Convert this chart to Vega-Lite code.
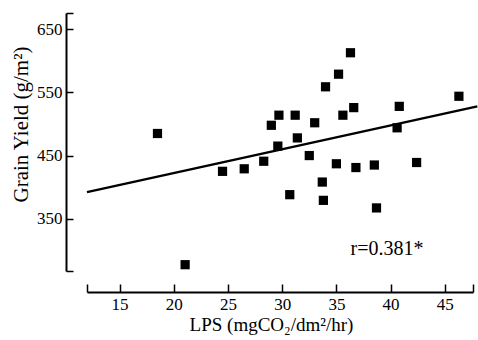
{
  "$schema": "https://vega.github.io/schema/vega-lite/v6.json",
  "width": 386,
  "height": 258,
  "autosize": "none",
  "padding": {"left": 87, "top": 13, "right": 5, "bottom": 69},
  "background": "white",
  "config": {
    "view": {"stroke": null},
    "font": "Liberation Serif",
    "axis": {
      "domainColor": "black",
      "domainWidth": 2,
      "tickColor": "black",
      "tickWidth": 1.5,
      "labelColor": "black",
      "titleColor": "black",
      "labelFont": "Liberation Serif",
      "titleFont": "Liberation Serif",
      "labelFontSize": 17,
      "titleFontWeight": "normal",
      "grid": false
    }
  },
  "datasets": {
    "points": [
      {"lps": 18.5, "yield": 485},
      {"lps": 29.7, "yield": 514},
      {"lps": 31.2, "yield": 514},
      {"lps": 29.0, "yield": 498},
      {"lps": 31.4, "yield": 478},
      {"lps": 33.0, "yield": 502},
      {"lps": 34.0, "yield": 559},
      {"lps": 35.2, "yield": 579},
      {"lps": 36.3, "yield": 613},
      {"lps": 35.6, "yield": 514},
      {"lps": 36.6, "yield": 526},
      {"lps": 40.8, "yield": 528},
      {"lps": 40.6, "yield": 494},
      {"lps": 46.3, "yield": 544},
      {"lps": 29.6, "yield": 465},
      {"lps": 32.5, "yield": 450},
      {"lps": 28.3, "yield": 441},
      {"lps": 26.5, "yield": 429},
      {"lps": 24.5, "yield": 425},
      {"lps": 35.0, "yield": 437},
      {"lps": 36.8, "yield": 431},
      {"lps": 38.5, "yield": 435},
      {"lps": 42.4, "yield": 439},
      {"lps": 33.7, "yield": 408},
      {"lps": 30.7, "yield": 388},
      {"lps": 33.8, "yield": 379},
      {"lps": 38.7, "yield": 367},
      {"lps": 21.05, "yield": 277}
    ],
    "fit": [
      {"lps": 12, "yield": 392},
      {"lps": 48, "yield": 528}
    ],
    "note": [
      {"lps": 36.3, "yield": 292, "label": "r=0.381*"}
    ]
  },
  "layer": [
    {
      "data": {"name": "points"},
      "mark": {"type": "point", "shape": "square", "filled": true, "color": "black", "size": 85, "opacity": 1},
      "encoding": {
        "x": {
          "field": "lps", "type": "quantitative",
          "scale": {"domain": [12, 47.6], "nice": false, "zero": false},
          "axis": {
            "title": "LPS (mgCO₂/dm²/hr)",
            "titleFontSize": 19,
            "offset": 21,
            "values": [12, 15, 20, 25, 30, 35, 40, 45, 47.6],
            "labelExpr": "datum.value < 13 || datum.value > 47 ? '' : datum.label",
            "tickSize": -8,
            "labelPadding": 12,
            "titleX": 184,
            "titleY": 38,
            "titleBaseline": "alphabetic",
            "titleAlign": "center"
          }
        },
        "y": {
          "field": "yield", "type": "quantitative",
          "scale": {"domain": [267, 676], "nice": false, "zero": false},
          "axis": {
            "title": "Grain  Yield  (g/m²)",
            "titleFontSize": 21,
            "offset": 21,
            "values": [267, 350, 450, 550, 650, 676],
            "labelExpr": "datum.value < 300 || datum.value > 660 ? '' : datum.label",
            "tickSize": -7,
            "labelPadding": 11,
            "titleX": -39,
            "titleY": 111,
            "titleAngle": -90,
            "titleBaseline": "alphabetic",
            "titleAlign": "center"
          }
        }
      }
    },
    {
      "data": {"name": "fit"},
      "mark": {"type": "line", "color": "black", "strokeWidth": 2.5, "clip": false},
      "encoding": {
        "x": {"field": "lps", "type": "quantitative"},
        "y": {"field": "yield", "type": "quantitative"}
      }
    },
    {
      "data": {"name": "note"},
      "mark": {"type": "text", "align": "left", "baseline": "alphabetic", "fontSize": 20, "font": "Liberation Serif", "color": "black"},
      "encoding": {
        "x": {"field": "lps", "type": "quantitative"},
        "y": {"field": "yield", "type": "quantitative"},
        "text": {"field": "label"}
      }
    }
  ]
}
